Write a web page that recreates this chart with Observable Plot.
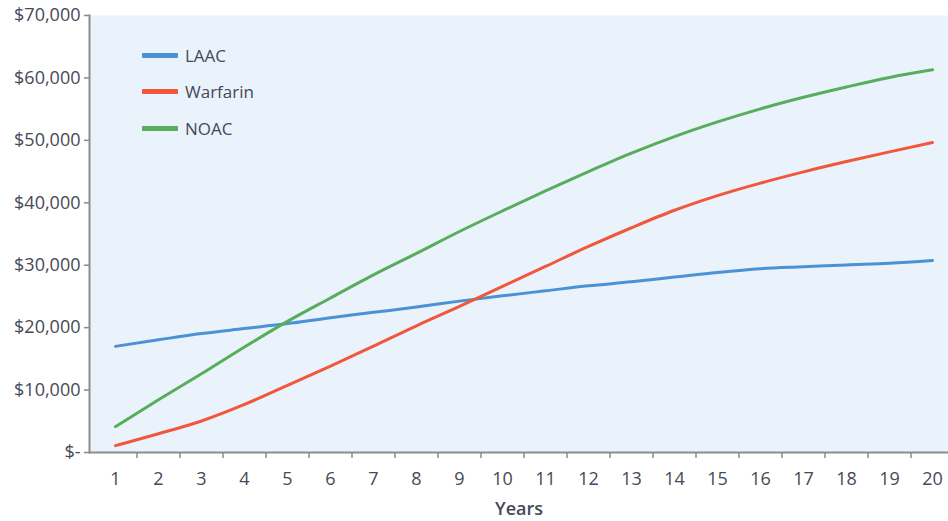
<!DOCTYPE html>
<html>
<head>
<meta charset="utf-8">
<script src="https://cdn.jsdelivr.net/npm/d3@7"></script>
<script src="https://cdn.jsdelivr.net/npm/@observablehq/plot@0.6"></script>
<style>
  html, body { margin: 0; padding: 0; background: #ffffff; }
  #wrap { position: relative; width: 948px; height: 521px; overflow: hidden; font-family: "Open Sans", sans-serif; }
  #legend { position: absolute; left: 142px; top: 37px; }
  .row { display: flex; align-items: center; height: 36.5px; }
  .swatch { width: 36px; height: 5px; margin-right: 7px; border-radius: 1px; }
  .lab { font-size: 17px; color: #444955; line-height: 1; }
  svg [aria-label="x-axis label"] text { font-weight: 600; }
</style>
</head>
<body>
<div id="wrap"></div>
<script>
const years = [1, 2, 3, 4, 5, 6, 7, 8, 9, 10, 11, 12, 13, 14, 15, 16, 17, 18, 19, 20];
const laac = [17000, 18050, 19050, 19850, 20650, 21600, 22450, 23300, 24250, 25100, 25900, 26700, 27350, 28100, 28850, 29450, 29750, 30050, 30300, 30750];
const warfarin = [1100, 3000, 5050, 7700, 10750, 13850, 17050, 20300, 23400, 26600, 29800, 33000, 36000, 38800, 41150, 43150, 44950, 46600, 48150, 49650];
const noac = [4150, 8450, 12600, 16900, 21000, 24750, 28450, 31900, 35400, 38700, 41900, 45000, 47950, 50600, 52950, 55050, 56900, 58550, 60070, 61300];
const seriesNames = ["LAAC", "Warfarin", "NOAC"];
const seriesColors = ["#4a91d6", "#f0573b", "#58ad5c"];
const yTicks = [0, 10000, 20000, 30000, 40000, 50000, 60000, 70000];
const xLabel = "Years";

const seriesValues = [laac, warfarin, noac];
const data = seriesNames.flatMap((name, i) =>
  years.map((yr, j) => ({ series: name, year: yr, value: seriesValues[i][j] }))
);
const boundaries = years.map(y => y + 0.5);
const fmt = d => d === 0 ? "$-" : "$" + d3.format(",")(d);

const chart = Plot.plot({
  width: 948,
  height: 521,
  marginLeft: 89,
  marginRight: 0,
  marginTop: 15,
  marginBottom: 69,
  style: { fontFamily: "Open Sans, sans-serif", fontSize: "18px", color: "#454a56", background: "transparent" },
  x: { domain: [0.5, 20.5], range: [93.5, 953.5] },
  y: { domain: [0, 70000] },
  color: { domain: seriesNames, range: seriesColors },
  marks: [
    Plot.frame({ fill: "#eaf3fb", stroke: null }),
    Plot.line(data, { x: "year", y: "value", stroke: "series", strokeWidth: 3, curve: "monotone-x" }),
    Plot.axisY({ ticks: yTicks, tickFormat: fmt, tickSize: 5, tickPadding: 4, label: null, stroke: "#8a8a8a", strokeWidth: 1.5, strokeOpacity: 1 }),
    Plot.axisX({ ticks: years, tickSize: 0, tickPadding: 20, tickFormat: d => String(d), label: xLabel, labelAnchor: "center", labelOffset: 62, labelArrow: "none" }),
    Plot.axisX({ ticks: boundaries, tickFormat: () => "", tickSize: 6, label: null, stroke: "#8a8a8a", strokeWidth: 1.5, strokeOpacity: 1 }),
    Plot.frame({ anchor: "left", stroke: "#8c8c8c", strokeWidth: 2, strokeOpacity: 1 }),
    Plot.frame({ anchor: "bottom", stroke: "#8c8c8c", strokeWidth: 2, strokeOpacity: 1 })
  ]
});

const wrap = document.getElementById("wrap");
wrap.appendChild(chart);

const legend = document.createElement("div");
legend.id = "legend";
seriesNames.forEach((name, i) => {
  const row = document.createElement("div");
  row.className = "row";
  const sw = document.createElement("div");
  sw.className = "swatch";
  sw.style.background = seriesColors[i];
  const lab = document.createElement("span");
  lab.className = "lab";
  lab.textContent = name;
  row.appendChild(sw);
  row.appendChild(lab);
  legend.appendChild(row);
});
wrap.appendChild(legend);
</script>
</body>
</html>
